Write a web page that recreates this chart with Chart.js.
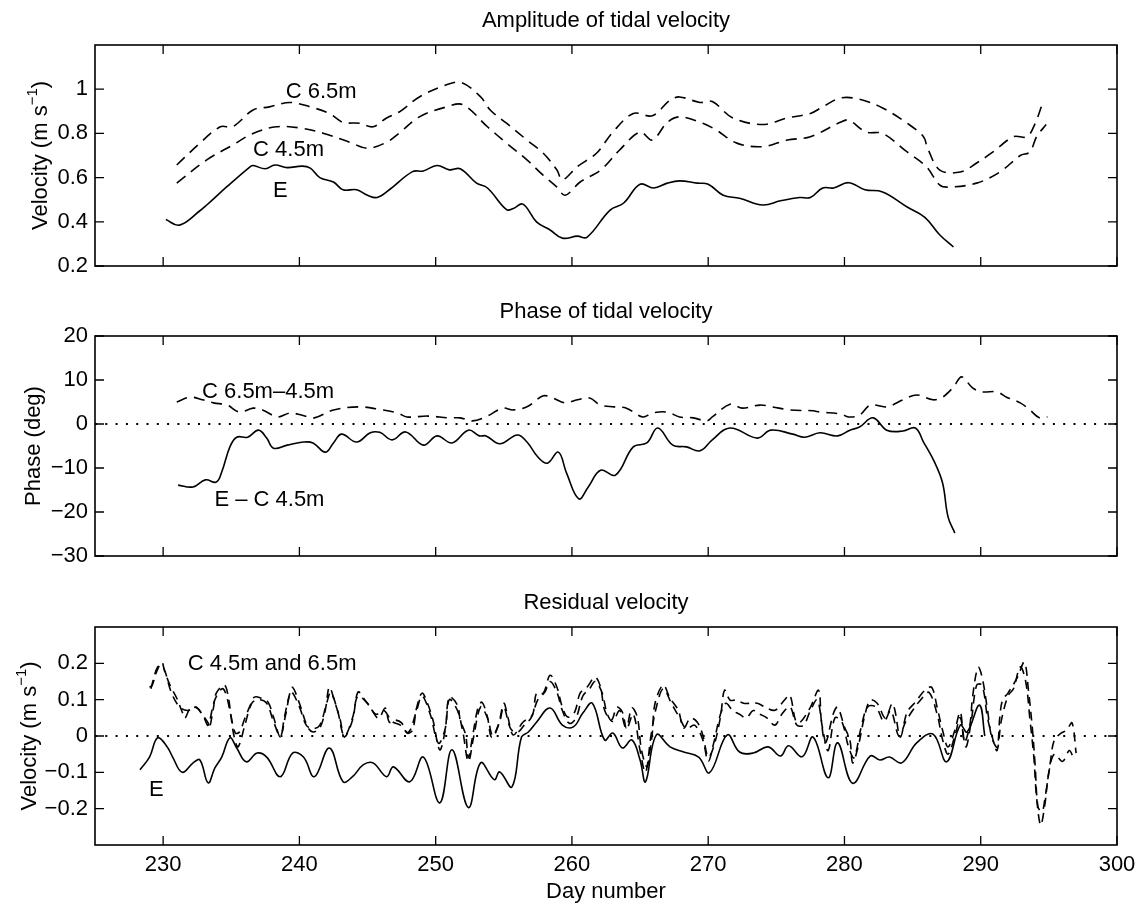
<!DOCTYPE html>
<html>
<head>
<meta charset="utf-8">
<title>Tidal velocity</title>
<script src="https://cdn.jsdelivr.net/npm/chart.js@4.4.1/dist/chart.umd.min.js"></script>
<style>
  body { margin: 0; background: #fff; }
  .panel { position: absolute; left: 0; width: 1144px; }
</style>
</head>
<body>
<div class="panel" style="top:0;height:290px"><canvas id="ampChart"></canvas></div>
<div class="panel" style="top:290px;height:290px"><canvas id="phaseChart"></canvas></div>
<div class="panel" style="top:580px;height:325px"><canvas id="resChart"></canvas></div>
<script>
// x axis (day number) shared by all three panels
const dayTicks = [230, 240, 250, 260, 270, 280, 290, 300];

// Amplitude of tidal velocity (m/s)
const ampTicks = [0.2, 0.4, 0.6, 0.8, 1];
const ampDaysE = [230.2, 231.2, 232.7, 233.2, 234.7, 236.4, 236.6, 237.5, 238.2, 239.1, 240.2, 240.8, 241.5, 242.5, 243.2, 244.2, 245.0, 245.7, 246.6, 248.3, 249.1, 250.1, 251.0, 251.8, 253.0, 253.8, 255.2, 255.7, 256.4, 257.4, 258.4, 259.3, 260.4, 261.1, 262.8, 263.8, 265.0, 266.0, 267.0, 267.9, 269.2, 270.0, 271.1, 272.3, 274.0, 275.3, 276.7, 277.5, 278.4, 279.2, 280.3, 281.5, 282.8, 284.6, 285.9, 287.0, 288.0];
const ampE = [0.41, 0.385, 0.45, 0.476, 0.56, 0.65, 0.655, 0.64, 0.657, 0.645, 0.652, 0.643, 0.60, 0.58, 0.545, 0.545, 0.52, 0.51, 0.545, 0.627, 0.63, 0.655, 0.635, 0.64, 0.575, 0.553, 0.455, 0.46, 0.48, 0.40, 0.363, 0.326, 0.335, 0.33, 0.453, 0.485, 0.57, 0.553, 0.575, 0.585, 0.575, 0.57, 0.52, 0.507, 0.476, 0.495, 0.51, 0.51, 0.553, 0.553, 0.577, 0.545, 0.535, 0.467, 0.42, 0.34, 0.286];
const ampDaysC45 = [231.0, 233.2, 235.1, 236.6, 238.3, 240.0, 241.8, 243.7, 245.0, 246.4, 247.3, 248.8, 250.8, 252.0, 253.8, 255.2, 256.7, 257.9, 258.9, 259.5, 260.6, 262.1, 263.5, 265.0, 265.9, 267.0, 267.9, 269.6, 270.6, 272.1, 274.0, 275.8, 277.5, 279.7, 280.3, 281.6, 282.8, 284.6, 286.0, 287.0, 287.7, 289.7, 291.4, 292.9, 293.6, 294.1, 294.8];
const ampC45 = [0.575, 0.68, 0.747, 0.80, 0.83, 0.825, 0.80, 0.76, 0.733, 0.76, 0.80, 0.875, 0.92, 0.93, 0.83, 0.756, 0.68, 0.61, 0.557, 0.52, 0.58, 0.634, 0.725, 0.806, 0.77, 0.85, 0.875, 0.846, 0.815, 0.756, 0.74, 0.77, 0.785, 0.85, 0.86, 0.806, 0.80, 0.716, 0.65, 0.566, 0.557, 0.575, 0.625, 0.70, 0.716, 0.785, 0.84];
const ampDaysC65 = [231.0, 232.7, 234.2, 235.1, 236.6, 237.8, 239.3, 240.8, 242.2, 243.2, 244.4, 245.4, 246.4, 247.4, 248.8, 250.8, 251.9, 253.3, 254.0, 255.2, 256.7, 257.9, 258.9, 259.3, 260.4, 261.8, 263.0, 264.5, 265.9, 267.2, 267.9, 269.4, 270.3, 271.8, 274.0, 275.8, 277.5, 278.4, 279.7, 281.1, 282.8, 284.6, 285.8, 286.1, 287.0, 288.5, 289.7, 290.9, 292.4, 293.4, 294.0, 294.5];
const ampC65 = [0.657, 0.756, 0.83, 0.83, 0.906, 0.92, 0.94, 0.92, 0.89, 0.85, 0.846, 0.83, 0.87, 0.90, 0.965, 1.02, 1.03, 0.965, 0.906, 0.846, 0.77, 0.71, 0.634, 0.59, 0.65, 0.71, 0.806, 0.89, 0.88, 0.95, 0.965, 0.94, 0.944, 0.87, 0.84, 0.87, 0.89, 0.92, 0.96, 0.955, 0.915, 0.846, 0.785, 0.733, 0.634, 0.625, 0.666, 0.716, 0.785, 0.785, 0.846, 0.93];

// Phase of tidal velocity (deg)
const phaseTicks = [-30, -20, -10, 0, 10, 20];
const phaseDaysE = [231.1, 232.2, 233.1, 233.9, 234.3, 234.9, 235.4, 236.2, 237.0, 237.6, 238.1, 239.1, 240.3, 241.0, 241.9, 242.5, 243.1, 244.2, 245.2, 245.9, 246.8, 247.8, 249.1, 250.1, 251.2, 252.4, 253.2, 253.7, 254.7, 256.0, 256.7, 257.5, 258.2, 259.0, 259.6, 260.5, 261.2, 262.1, 263.2, 264.5, 265.5, 266.3, 267.4, 268.4, 269.4, 270.3, 271.6, 273.6, 274.6, 276.2, 277.1, 278.2, 279.5, 280.4, 281.1, 282.1, 283.1, 284.3, 285.2, 285.8, 286.6, 287.2, 287.6, 288.1];
const phaseE = [-13.9, -14.3, -12.7, -13.2, -10.9, -5.2, -3.0, -3.0, -1.4, -3.2, -5.5, -4.8, -4.1, -4.3, -6.4, -4.3, -2.3, -4.1, -2.0, -1.9, -3.6, -1.8, -4.8, -2.7, -4.3, -1.4, -2.7, -2.7, -4.5, -2.5, -4.1, -7.5, -8.9, -6.4, -11.1, -17.0, -14.3, -10.5, -11.6, -5.2, -4.3, -0.9, -4.8, -5.2, -6.1, -3.6, -0.9, -3.2, -1.4, -2.3, -3.0, -2.0, -2.7, -1.4, -0.7, 1.4, -1.4, -1.6, -0.9, -4.1, -8.6, -13.4, -21.1, -24.8];
const phaseDaysC = [231.0, 232.0, 232.9, 233.7, 234.7, 235.6, 236.6, 237.3, 238.4, 239.3, 240.2, 241.1, 242.5, 244.4, 245.9, 247.2, 247.9, 249.4, 251.0, 251.8, 252.7, 253.8, 254.9, 255.7, 256.7, 257.9, 258.6, 259.5, 260.4, 261.3, 262.1, 263.1, 264.0, 265.2, 265.9, 267.0, 267.9, 268.9, 269.9, 270.3, 271.6, 272.5, 273.8, 274.7, 276.0, 277.7, 278.2, 279.7, 280.3, 281.1, 281.9, 283.1, 284.3, 285.3, 286.5, 287.2, 288.0, 288.6, 289.4, 290.1, 291.2, 291.9, 292.9, 293.6, 294.3, 294.9];
const phaseC = [5.0, 6.1, 5.5, 4.8, 4.3, 2.7, 3.6, 3.2, 1.6, 2.5, 2.0, 1.4, 3.2, 3.9, 3.3, 2.5, 1.6, 1.8, 1.4, 1.4, 0.7, 1.8, 3.6, 3.2, 3.9, 6.4, 5.9, 4.8, 5.5, 5.9, 4.3, 3.9, 3.6, 1.6, 2.5, 2.7, 1.6, 1.4, 0.7, 1.6, 4.5, 3.6, 4.3, 3.9, 3.2, 3.0, 2.7, 2.3, 1.6, 2.0, 4.3, 3.9, 5.5, 6.6, 5.5, 6.1, 8.4, 10.7, 8.2, 7.3, 7.3, 6.1, 4.8, 3.2, 1.4, 1.6];

// Residual velocity (m/s)
const resTicks = [-0.2, -0.1, 0, 0.1, 0.2];
const resDaysE = [228.3, 229.0, 229.6, 230.3, 230.7, 231.4, 232.2, 232.7, 233.3, 233.8, 234.3, 234.9, 235.4, 236.1, 236.9, 237.6, 238.6, 239.5, 240.3, 241.1, 242.2, 243.2, 243.9, 244.7, 245.4, 246.4, 246.9, 248.1, 249.1, 250.3, 251.2, 252.4, 253.3, 254.3, 254.7, 255.6, 256.3, 256.8, 257.4, 258.4, 259.3, 260.1, 260.8, 261.5, 262.4, 263.0, 263.7, 264.4, 265.0, 265.4, 266.2, 267.2, 268.2, 269.3, 270.1, 271.4, 272.3, 273.3, 274.4, 275.3, 275.9, 276.9, 277.7, 278.8, 279.5, 280.6, 281.9, 282.6, 283.3, 284.2, 285.3, 286.5, 287.5, 288.5, 289.0, 289.9, 290.3];
const resE = [-0.093, -0.058, -0.005, -0.03, -0.058, -0.10, -0.074, -0.066, -0.129, -0.088, -0.058, -0.005, -0.033, -0.071, -0.047, -0.058, -0.112, -0.047, -0.058, -0.112, -0.033, -0.126, -0.112, -0.079, -0.074, -0.112, -0.085, -0.126, -0.058, -0.184, -0.038, -0.197, -0.074, -0.12, -0.099, -0.14, -0.003, 0.011, 0.038, 0.077, 0.030, 0.025, 0.063, 0.090, -0.011, 0.008, -0.033, -0.011, -0.066, -0.126, 0.003, -0.03, -0.044, -0.058, -0.101, 0.003, -0.044, -0.047, -0.03, -0.055, -0.027, -0.057, -0.003, -0.115, -0.019, -0.13, -0.055, -0.066, -0.058, -0.074, -0.019, 0.005, -0.071, 0.03, 0.011, 0.085, 0.0];
const resDaysC45 = [229.0, 229.2, 229.5, 229.9, 230.1, 230.5, 231.0, 231.4, 231.6, 232.0, 232.5, 232.9, 233.3, 233.4, 233.7, 233.9, 234.5, 234.8, 235.0, 235.3, 235.6, 236.0, 236.4, 236.7, 237.2, 237.7, 238.1, 238.6, 238.9, 239.3, 239.5, 240.0, 240.6, 241.0, 241.5, 241.9, 242.2, 242.6, 243.0, 243.3, 243.9, 244.3, 244.8, 245.2, 245.8, 246.3, 246.6, 247.0, 247.5, 247.9, 248.3, 248.6, 249.0, 249.4, 249.8, 250.3, 250.7, 251.0, 251.6, 251.8, 252.2, 252.4, 252.7, 253.1, 253.4, 253.8, 254.1, 254.6, 255.0, 255.3, 255.7, 256.4, 257.1, 257.4, 257.9, 258.4, 258.9, 259.3, 259.7, 260.2, 260.6, 261.1, 261.7, 262.1, 262.4, 262.9, 263.3, 263.7, 264.0, 264.4, 264.8, 265.1, 265.5, 265.7, 265.9, 266.1, 266.7, 267.2, 267.8, 268.2, 268.7, 269.2, 269.6, 270.0, 270.4, 270.9, 271.2, 271.6, 272.1, 272.6, 273.6, 274.2, 274.9, 275.6, 276.0, 276.4, 276.7, 277.5, 278.1, 278.3, 278.6, 279.2, 279.5, 280.0, 280.4, 280.6, 281.0, 281.5, 281.9, 282.4, 283.0, 283.5, 283.7, 284.1, 284.6, 285.2, 285.9, 286.4, 286.8, 287.2, 287.6, 288.1, 288.5, 288.8, 289.2, 289.4, 289.8, 290.1, 290.5, 290.8, 291.2, 291.4, 291.6, 292.0, 292.7, 293.2, 293.5, 293.8, 294.0, 294.2, 294.5, 294.7, 295.1, 295.4, 295.9, 296.3, 296.7, 297.0];
const resC45 = [0.134, 0.14, 0.175, 0.203, 0.18, 0.14, 0.104, 0.066, 0.049, 0.077, 0.077, 0.058, 0.036, 0.022, 0.079, 0.118, 0.14, 0.104, 0.052, 0.008, 0.011, 0.049, 0.085, 0.107, 0.104, 0.093, 0.052, -0.003, 0.052, 0.118, 0.134, 0.090, 0.025, 0.011, 0.022, 0.071, 0.134, 0.093, 0.044, -0.003, 0.044, 0.121, 0.099, 0.079, 0.049, 0.077, 0.038, 0.044, 0.036, 0.008, 0.016, 0.077, 0.118, 0.090, 0.044, -0.038, 0.016, 0.107, 0.085, 0.044, 0.003, -0.06, -0.003, 0.077, 0.093, 0.052, -0.003, 0.030, 0.090, 0.052, 0.003, 0.038, 0.058, 0.118, 0.118, 0.167, 0.134, 0.079, 0.052, 0.066, 0.118, 0.134, 0.162, 0.134, 0.071, 0.044, 0.079, 0.066, 0.022, 0.077, 0.052, -0.038, -0.085, -0.047, 0.008, 0.090, 0.14, 0.104, 0.071, 0.022, 0.049, 0.038, 0.003, -0.058, -0.030, 0.052, 0.126, 0.099, 0.099, 0.090, 0.090, 0.079, 0.071, 0.099, 0.112, 0.044, 0.036, 0.079, 0.126, 0.044, -0.019, 0.063, 0.079, 0.025, -0.011, -0.074, -0.030, 0.058, 0.099, 0.090, 0.049, 0.090, 0.071, -0.003, 0.066, 0.093, 0.126, 0.134, 0.079, 0.016, -0.030, 0.016, 0.066, -0.016, 0.030, 0.107, 0.189, 0.162, 0.071, -0.003, -0.030, 0.052, 0.099, 0.118, 0.162, 0.203, 0.126, 0.016, -0.085, -0.195, -0.208, -0.175, -0.074, -0.011, 0.008, 0.016, 0.036, -0.047];
const resDaysC65 = [229.1, 229.6, 230.0, 230.6, 231.2, 231.8, 232.4, 233.0, 233.3, 233.8, 234.4, 234.9, 235.2, 235.5, 236.0, 236.5, 237.0, 237.6, 238.1, 238.6, 239.0, 239.4, 240.0, 240.5, 241.0, 241.5, 242.0, 242.3, 242.8, 243.3, 243.9, 244.3, 245.0, 245.6, 246.2, 246.8, 247.4, 248.0, 248.6, 249.0, 249.6, 250.2, 250.7, 251.0, 251.6, 252.0, 252.4, 252.8, 253.3, 253.8, 254.2, 254.7, 255.0, 255.5, 256.0, 256.5, 257.0, 257.5, 258.0, 258.4, 258.9, 259.3, 259.8, 260.3, 260.8, 261.3, 261.7, 262.2, 262.6, 263.0, 263.5, 264.0, 264.5, 265.0, 265.4, 265.8, 266.2, 266.7, 267.3, 267.9, 268.4, 269.0, 269.6, 270.0, 270.4, 270.9, 271.3, 271.8, 272.3, 272.8, 273.3, 273.8, 274.3, 274.9, 275.4, 276.0, 276.5, 277.0, 277.5, 278.0, 278.4, 278.8, 279.3, 279.8, 280.3, 280.7, 281.2, 281.7, 282.3, 282.9, 283.4, 284.0, 284.5, 285.0, 285.6, 286.2, 286.8, 287.2, 287.6, 288.1, 288.5, 288.9, 289.3, 289.7, 290.1, 290.5, 290.9, 291.2, 291.5, 292.0, 292.4, 292.9, 293.3, 293.6, 293.9, 294.1, 294.4, 294.7, 295.0, 295.4, 296.0, 296.5, 296.8];
const resC65 = [0.13, 0.19, 0.19, 0.12, 0.08, 0.07, 0.08, 0.05, 0.03, 0.10, 0.13, 0.07, 0.00, -0.03, 0.03, 0.09, 0.10, 0.09, 0.04, 0.00, 0.06, 0.12, 0.08, 0.03, 0.02, 0.03, 0.09, 0.12, 0.07, 0.00, 0.05, 0.11, 0.09, 0.06, 0.07, 0.04, 0.03, 0.01, 0.07, 0.11, 0.06, -0.02, 0.02, 0.10, 0.07, 0.01, -0.07, 0.00, 0.08, 0.05, 0.00, 0.04, 0.08, 0.02, 0.01, 0.03, 0.05, 0.10, 0.12, 0.15, 0.12, 0.07, 0.035, 0.05, 0.11, 0.13, 0.15, 0.12, 0.06, 0.04, 0.07, 0.02, 0.06, -0.04, -0.10, 0.00, 0.08, 0.13, 0.09, 0.05, 0.02, 0.03, -0.01, -0.07, -0.02, 0.06, 0.09, 0.07, 0.06, 0.05, 0.07, 0.06, 0.05, 0.03, 0.06, 0.08, 0.03, 0.03, 0.07, 0.10, 0.02, -0.04, 0.05, 0.04, -0.03, -0.06, 0.02, 0.08, 0.08, 0.04, 0.07, 0.00, 0.04, 0.07, 0.10, 0.12, 0.06, -0.01, -0.05, 0.00, 0.05, -0.03, 0.04, 0.14, 0.14, 0.05, -0.01, -0.04, 0.04, 0.11, 0.13, 0.19, 0.15, 0.05, -0.06, -0.17, -0.245, -0.19, -0.10, -0.05, -0.07, -0.04, -0.06];

const FONT = '"Liberation Sans", Arial, Helvetica, sans-serif';
Chart.defaults.font.family = FONT;
Chart.defaults.font.size = 22;
Chart.defaults.color = '#000';

function pts(days, vals) {
  if (days.length !== vals.length) throw new Error('length mismatch ' + days.length + ' vs ' + vals.length);
  return days.map((d, i) => ({ x: d, y: vals[i] }));
}

function solid(days, vals) {
  return { data: pts(days, vals), borderColor: '#000', borderWidth: 1.6, tension: 0.4 };
}
function dashed(days, vals, dash) {
  return { data: pts(days, vals), borderColor: '#000', borderWidth: 1.6, tension: 0.35, borderDash: dash };
}
function zeroLine() {
  return { data: [{ x: 225, y: 0 }, { x: 300, y: 0 }], borderColor: '#000', borderWidth: 1.8, borderDash: [2, 8.3], tension: 0 };
}

function fmt(v) {
  return (v < 0 ? '\u2212' : '') + String(Math.abs(v));
}

// box, inward ticks, titles and in-plot labels
const frame = {
  id: 'frame',
  afterDraw(chart, args, opts) {
    const { ctx, chartArea: a, scales: { x, y } } = chart;
    ctx.save();
    ctx.strokeStyle = '#000';
    ctx.fillStyle = '#000';
    ctx.lineWidth = 1.6;
    ctx.strokeRect(a.left, a.top, a.width, a.height);

    ctx.lineWidth = 1.3;
    ctx.beginPath();
    x.ticks.forEach(t => {
      const px = x.getPixelForValue(t.value);
      ctx.moveTo(px, a.bottom); ctx.lineTo(px, a.bottom - 9);
      ctx.moveTo(px, a.top); ctx.lineTo(px, a.top + 9);
    });
    y.ticks.forEach(t => {
      const py = y.getPixelForValue(t.value);
      ctx.moveTo(a.left, py); ctx.lineTo(a.left + 9, py);
      ctx.moveTo(a.right, py); ctx.lineTo(a.right - 9, py);
    });
    ctx.stroke();

    ctx.font = '22px ' + FONT;
    ctx.textAlign = 'center';
    ctx.textBaseline = 'alphabetic';
    ctx.fillText(opts.title, (a.left + a.right) / 2, a.top - 18);
    if (opts.xTitle) ctx.fillText(opts.xTitle, (a.left + a.right) / 2, a.bottom + 53);

    ctx.textBaseline = 'middle';
    (opts.notes || []).forEach(n => {
      ctx.fillText(n.text, x.getPixelForValue(n.day), y.getPixelForValue(n.value));
    });

    // rotated y title, with optional superscript part
    const parts = opts.yTitle;
    ctx.translate(opts.yTitleX, (a.top + a.bottom) / 2);
    ctx.rotate(-Math.PI / 2);
    ctx.textAlign = 'left';
    let total = 0;
    parts.forEach(p => {
      ctx.font = (p.sup ? '15px ' : '22px ') + FONT;
      total += ctx.measureText(p.text).width;
    });
    let pos = -total / 2;
    parts.forEach(p => {
      ctx.font = (p.sup ? '15px ' : '22px ') + FONT;
      ctx.fillText(p.text, pos, p.sup ? -8 : 0);
      pos += ctx.measureText(p.text).width;
    });
    ctx.restore();
  }
};

function makePanel(canvasId, o) {
  return new Chart(document.getElementById(canvasId), {
    type: 'line',
    data: { datasets: o.datasets },
    options: {
      animation: false,
      responsive: true,
      maintainAspectRatio: false,
      layout: { padding: { top: o.padTop, right: 27, bottom: 0, left: 0 } },
      elements: { point: { radius: 0 } },
      plugins: {
        legend: { display: false },
        tooltip: { enabled: false },
        frame: o.frame
      },
      scales: {
        x: {
          type: 'linear', min: 225, max: 300,
          grid: { display: false, drawTicks: false }, border: { display: false },
          afterBuildTicks: s => { s.ticks = dayTicks.map(v => ({ value: v })); },
          afterFit: s => { s.height = o.xHeight; },
          ticks: { display: o.showDays, padding: 7, autoSkip: false, maxRotation: 0 }
        },
        y: {
          type: 'linear', min: o.yMin, max: o.yMax,
          grid: { display: false, drawTicks: false }, border: { display: false },
          afterBuildTicks: s => { s.ticks = o.yTicks.map(v => ({ value: v })); },
          afterFit: s => { s.width = 95; },
          ticks: { padding: 7, callback: v => fmt(v) }
        }
      }
    },
    plugins: [frame]
  });
}

const velTitle = [{ text: 'Velocity (m s' }, { text: '\u22121', sup: true }, { text: ')' }];

makePanel('ampChart', {
  padTop: 45, xHeight: 24, showDays: false,
  yMin: 0.2, yMax: 1.2, yTicks: ampTicks,
  datasets: [
    solid(ampDaysE, ampE),
    dashed(ampDaysC45, ampC45, [11, 7]),
    dashed(ampDaysC65, ampC65, [11, 7])
  ],
  frame: {
    title: 'Amplitude of tidal velocity',
    yTitle: velTitle, yTitleX: 41,
    notes: [
      { text: 'C 6.5m', day: 241.6, value: 0.987 },
      { text: 'C 4.5m', day: 239.2, value: 0.725 },
      { text: 'E', day: 238.6, value: 0.54 }
    ]
  }
});

makePanel('phaseChart', {
  padTop: 46, xHeight: 24, showDays: false,
  yMin: -30, yMax: 20, yTicks: phaseTicks,
  datasets: [
    zeroLine(),
    solid(phaseDaysE, phaseE),
    dashed(phaseDaysC, phaseC, [11, 7])
  ],
  frame: {
    title: 'Phase of tidal velocity',
    yTitle: [{ text: 'Phase (deg)' }], yTitleX: 34,
    notes: [
      { text: 'C 6.5m\u20134.5m', day: 237.7, value: 7.3 },
      { text: 'E \u2013 C 4.5m', day: 237.8, value: -17.3 }
    ]
  }
});

makePanel('resChart', {
  padTop: 47, xHeight: 60, showDays: true,
  yMin: -0.3, yMax: 0.3, yTicks: resTicks,
  datasets: [
    zeroLine(),
    solid(resDaysE, resE),
    dashed(resDaysC45, resC45, [9, 6]),
    dashed(resDaysC65, resC65, [9, 6])
  ],
  frame: {
    title: 'Residual velocity',
    xTitle: 'Day number',
    yTitle: velTitle, yTitleX: 30,
    notes: [
      { text: 'C 4.5m and 6.5m', day: 238.0, value: 0.197 },
      { text: 'E', day: 229.5, value: -0.148 }
    ]
  }
});
</script>
</body>
</html>
